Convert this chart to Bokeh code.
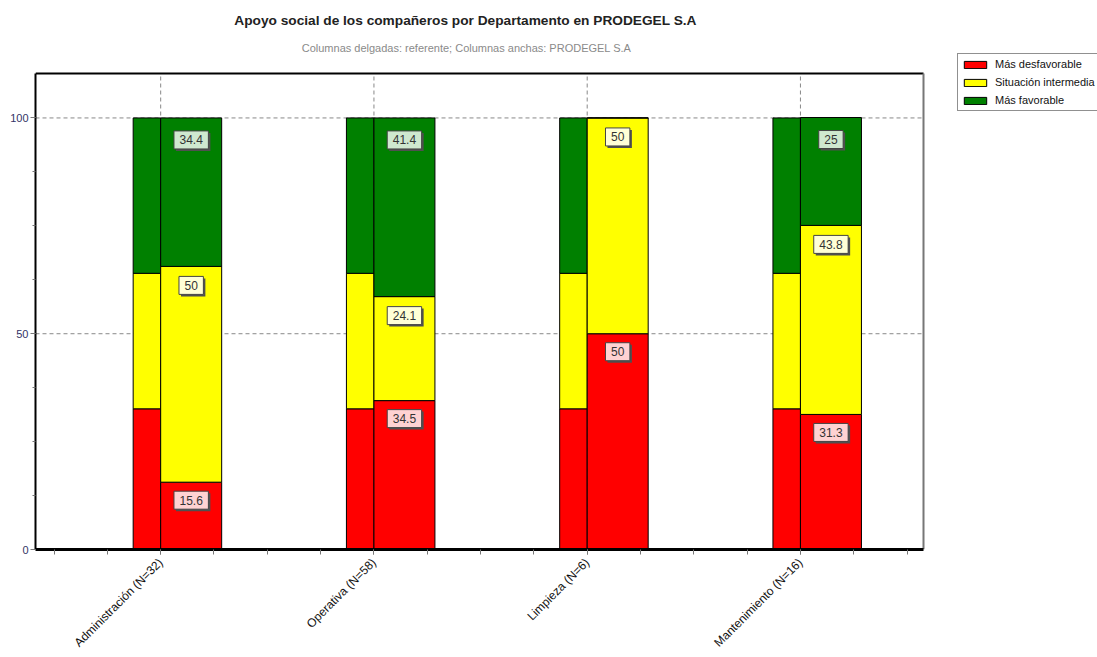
import numpy as np
from bokeh.plotting import figure
from bokeh.models import (ColumnDataSource, Range1d, FixedTicker, LabelSet, Label,
                          Legend, LegendItem)
from bokeh.core.properties import value
from bokeh.embed import file_html
from bokeh.resources import INLINE

# ---------------- data ----------------
departamentos = ["Administración (N=32)", "Operativa (N=58)", "Limpieza (N=6)", "Mantenimiento (N=16)"]
series = ["Más desfavorable", "Situación intermedia", "Más favorable"]

# referente (columnas delgadas)
ref_desfavorable = [32.6, 32.6, 32.6, 32.6]
ref_intermedia = [31.4, 31.4, 31.4, 31.4]
ref_favorable = [36.0, 36.0, 36.0, 36.0]

# PRODEGEL S.A (columnas anchas)
prod_desfavorable = [15.6, 34.5, 50.0, 31.3]
prod_intermedia = [50.0, 24.1, 50.0, 43.8]
prod_favorable = [34.4, 41.4, 0.0, 25.0]

y_ticks = [0, 50, 100]

titulo = "Apoyo social de los compañeros por Departamento en PRODEGEL S.A"
subtitulo = "Columnas delgadas: referente; Columnas anchas: PRODEGEL S.A"

# ---------------- style ----------------
colores = ["#ff0000", "#ffff00", "#008000"]
colores_etiqueta = ["#ffd2d2", "#ffffd6", "#cfe8cf"]
W_N = 0.129
W_W = 0.286
FONT = "Liberation Sans"
W, H = 1097, 657
LEFT, BOTTOM = 35, 108
X0, XB = -0.587, 3.577      # visible plot box in data units
Y0, YB = 0.0, 110.3
BOX_W, BOX_H_PX = 888, 476  # plot box size in pixels
PX_X = BOX_W / (XB - X0)
PX_Y = BOX_H_PX / (YB - Y0)
X_END = X0 + (W - LEFT) / PX_X
Y_END = Y0 + (H - BOTTOM) / PX_Y

x = np.arange(len(departamentos))

p = figure(width=W, height=H, output_backend="svg", toolbar_location=None,
           x_range=Range1d(X0, X_END), y_range=Range1d(Y0, Y_END),
           min_border_left=LEFT, min_border_right=0, min_border_top=0, min_border_bottom=BOTTOM)
p.background_fill_color = "white"
p.border_fill_color = "white"
p.outline_line_color = None
p.xgrid.visible = False
p.ygrid.visible = False

# grid lines (dashed) at the category positions and at the y ticks
GRID = dict(line_color="#888888", line_dash="4 3", line_width=1)
p.segment(x0=x, y0=Y0, x1=x, y1=YB, **GRID)
p.segment(x0=X0, y0=y_ticks[1:], x1=XB, y1=y_ticks[1:], **GRID)

# plot box: top (black) and right (gray) borders
p.segment(x0=[X0], y0=[YB], x1=[XB], y1=[YB], line_color="black", line_width=2)
p.segment(x0=[XB], y0=[Y0], x1=[XB], y1=[YB], line_color="#777777", line_width=2)

src_ref = ColumnDataSource(dict(x=x - W_N / 2, d=ref_desfavorable, i=ref_intermedia, f=ref_favorable))
src_prod = ColumnDataSource(dict(x=x + W_W / 2, d=prod_desfavorable, i=prod_intermedia, f=prod_favorable))

p.vbar_stack(["d", "i", "f"], x="x", width=W_N, source=src_ref,
             fill_color=colores, line_color="black", line_width=1)
rs = p.vbar_stack(["d", "i", "f"], x="x", width=W_W, source=src_prod,
                  fill_color=colores, line_color="black", line_width=1)

# value labels (boxes with shadow + text)
prod_vals = [prod_desfavorable, prod_intermedia, prod_favorable]
tops = np.cumsum(np.array(prod_vals), axis=0)
offsets_px = [18, 19, 22]
LBL_H = 18

for k in range(3):
    vals = prod_vals[k]
    keep = [j for j in range(len(vals)) if vals[j] > 0]
    texts = [f"{vals[j]:g}" for j in keep]
    bx = np.array([x[j] + W_W / 2 for j in keep])
    by = np.array([tops[k][j] for j in keep]) - offsets_px[k] / PX_Y
    bw = [6.7 * sum(c.isdigit() for c in t) + 3.3 * t.count(".") + 11 for t in texts]
    src = ColumnDataSource(dict(x=bx, y=by, w=bw, text=texts,
                                xs=bx + 2 / PX_X, ys=by - 2 / PX_Y))
    p.rect(x="xs", y="ys", width="w", height=LBL_H, width_units="screen", height_units="screen",
           source=src, fill_color="#505050", line_color=None)
    p.rect(x="x", y="y", width="w", height=LBL_H, width_units="screen", height_units="screen",
           source=src, fill_color=colores_etiqueta[k], line_color="#444444", line_width=1)
    p.add_layout(LabelSet(x="x", y="y", text="text", source=src, text_align="center",
                          text_baseline="middle",
                          text_font=value(FONT), text_font_size="12px", text_color="#333333"))

# axes
p.xaxis.bounds = (X0, XB)
p.xaxis.ticker = FixedTicker(ticks=list(x), minor_ticks=list(np.arange(-0.5, 3.6, 0.25)))
p.xaxis.major_label_overrides = {int(i): d for i, d in zip(x, departamentos)}
p.xaxis.major_label_orientation = np.pi / 4
p.xaxis.major_label_text_font = FONT
p.xaxis.major_label_text_font_size = "12px"
p.xaxis.major_label_text_color = "#111111"
p.xaxis.major_label_standoff = 6
p.xaxis.axis_line_color = "black"
p.xaxis.axis_line_width = 3
p.xaxis.major_tick_out = 5
p.xaxis.major_tick_in = 0
p.xaxis.minor_tick_out = 5
p.xaxis.minor_tick_in = 0
p.xaxis.major_tick_line_color = "#777777"
p.xaxis.minor_tick_line_color = "#777777"

p.yaxis.bounds = (Y0, YB)
p.yaxis.ticker = FixedTicker(ticks=y_ticks, minor_ticks=list(np.arange(0, 110, 12.5)))
p.yaxis.major_label_text_font = FONT
p.yaxis.major_label_text_font_size = "11px"
p.yaxis.major_label_text_color = "#333366"
p.yaxis.major_label_standoff = 2
p.yaxis.axis_line_color = "black"
p.yaxis.axis_line_width = 2
p.yaxis.major_tick_out = 5
p.yaxis.major_tick_in = 0
p.yaxis.minor_tick_out = 3
p.yaxis.minor_tick_in = 0
p.yaxis.major_tick_line_color = "#777777"
p.yaxis.minor_tick_line_color = "#777777"

# titles (screen units, measured from the frame's bottom-left)
frame_h = H - BOTTOM
p.add_layout(Label(x=465 - LEFT, y=frame_h - 20, x_units="screen", y_units="screen", text=titulo,
                   text_align="center", text_baseline="middle", text_font=FONT,
                   text_font_style="bold", text_font_size="13.7px", text_color="#222222"))
p.add_layout(Label(x=466 - LEFT, y=frame_h - 47, x_units="screen", y_units="screen", text=subtitulo,
                   text_align="center", text_baseline="middle", text_font=FONT,
                   text_font_size="11px", text_color="#8a8a8a"))

# legend (tuple location = bottom-left corner, in screen px from frame bottom-left)
lg = Legend(items=[LegendItem(label=s, renderers=[r]) for s, r in zip(series, rs)],
            location=(957 - LEFT, frame_h - 111), orientation="vertical")
lg.label_text_font = FONT
lg.label_text_font_size = "11px"
lg.label_text_color = "#111111"
lg.glyph_width = 28
lg.glyph_height = 9
lg.label_height = 14
lg.label_standoff = 6
lg.spacing = 4
lg.padding = 3
lg.margin = 0
lg.border_line_color = "#222222"
lg.border_line_width = 1
lg.background_fill_color = "white"
lg.background_fill_alpha = 1
p.add_layout(lg)

open("out.html", "w").write(file_html(p, INLINE))
